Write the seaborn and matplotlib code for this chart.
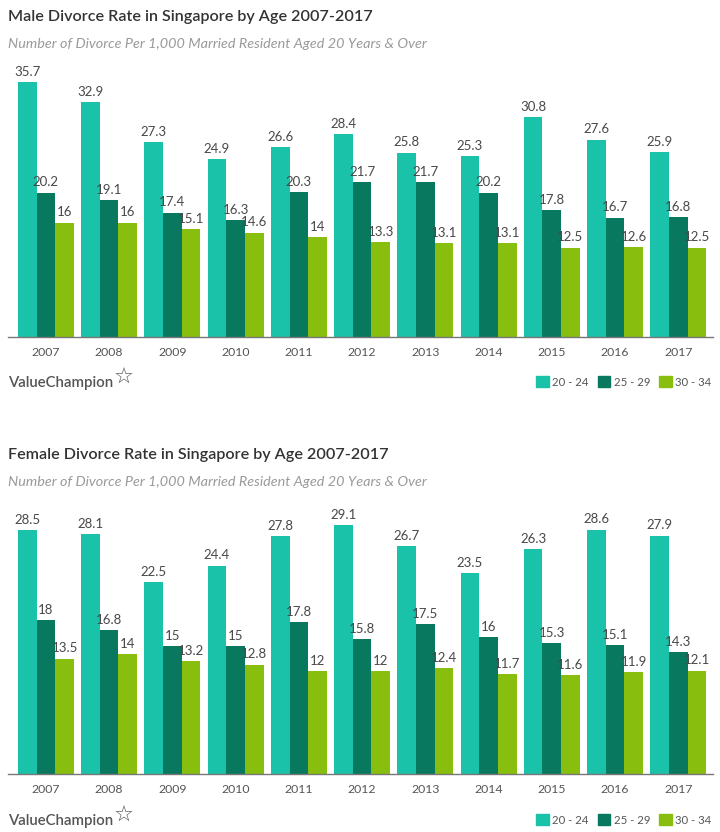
import matplotlib
matplotlib.use("Agg")
import matplotlib.pyplot as plt
import matplotlib.patches as mpatches
import seaborn as sns
import pandas as pd

years = ["2007", "2008", "2009", "2010", "2011", "2012", "2013", "2014", "2015", "2016", "2017"]
age_groups = ["20 - 24", "25 - 29", "30 - 34"]

male_20_24 = [35.7, 32.9, 27.3, 24.9, 26.6, 28.4, 25.8, 25.3, 30.8, 27.6, 25.9]
male_25_29 = [20.2, 19.1, 17.4, 16.3, 20.3, 21.7, 21.7, 20.2, 17.8, 16.7, 16.8]
male_30_34 = [16, 16, 15.1, 14.6, 14, 13.3, 13.1, 13.1, 12.5, 12.6, 12.5]

female_20_24 = [28.5, 28.1, 22.5, 24.4, 27.8, 29.1, 26.7, 23.5, 26.3, 28.6, 27.9]
female_25_29 = [18, 16.8, 15, 15, 17.8, 15.8, 17.5, 16, 15.3, 15.1, 14.3]
female_30_34 = [13.5, 14, 13.2, 12.8, 12, 12, 12.4, 11.7, 11.6, 11.9, 12.1]

titles = ["Male Divorce Rate in Singapore by Age 2007-2017",
          "Female Divorce Rate in Singapore by Age 2007-2017"]
subtitle = "Number of Divorce Per 1,000 Married Resident Aged 20 Years & Over"

colors = ["#19C2A9", "#08785F", "#88BF0E"]

sns.set_theme(style="white")
plt.rcParams["font.family"] = ["Lato", "DejaVu Sans"]


def long_df(a, b, c):
    rows = []
    for vals, g in zip([a, b, c], age_groups):
        for y, v in zip(years, vals):
            rows.append({"year": y, "age": g, "rate": v})
    return pd.DataFrame(rows)


W, H = 720, 832
fig = plt.figure(figsize=(W / 100, H / 100), dpi=100)

panels = [
    (long_df(male_20_24, male_25_29, male_30_34), 60, 337, 38.74, 0),
    (long_df(female_20_24, female_25_29, female_30_34), 498, 774, 32.3, 438),
]

for i, (df, top_px, bot_px, ymax, off) in enumerate(panels):
    ax = fig.add_axes([8 / W, 1 - bot_px / H, (713 - 8) / W, (bot_px - top_px) / H])
    sns.barplot(data=df, x="year", y="rate", hue="age", hue_order=age_groups,
                palette=colors, width=0.885, saturation=1, ax=ax, legend=False,
                errorbar=None, linewidth=0)
    for cont in ax.containers:
        ax.bar_label(cont, fmt="{:g}", padding=3, fontsize=9.5, color="#484848")
    ax.set_ylim(0, ymax)
    ax.set_xlim(-0.6, 10.55)
    ax.set_xlabel("")
    ax.set_ylabel("")
    ax.set_yticks([])
    for s in ["top", "right", "left"]:
        ax.spines[s].set_visible(False)
    ax.spines["bottom"].set_color("#777777")
    ax.spines["bottom"].set_linewidth(1.0)
    ax.tick_params(axis="x", length=0, pad=7, labelsize=8.8, labelcolor="#555555")

    fig.text(8 / W, 1 - (17 + off) / H, titles[i], fontsize=11.6, fontweight="semibold",
             color="#333333", va="center", ha="left")
    fig.text(8 / W, 1 - (44 + off) / H, subtitle, fontsize=10.4, style="italic",
             fontweight="normal", color="#9a9a9a", va="center", ha="left")
    # logo
    fig.text(8 / W, 1 - (383 + off) / H, "ValueChampion", fontsize=10.8,
             fontweight="semibold", color="#555555", va="center", ha="left")
    fig.text(114 / W, 1 - (378 + off) / H, "\u2606", fontsize=16, family="DejaVu Sans",
             color="#555555", va="center", ha="left")
    handles = [mpatches.Patch(color=c, label=g) for c, g in zip(colors, age_groups)]
    fig.legend(handles=handles, loc="center right", ncol=3,
               bbox_to_anchor=(716 / W, 1 - (382 + off) / H), frameon=False,
               fontsize=8.2, handlelength=1.1, handleheight=1.1, handletextpad=0.3,
               columnspacing=0.8, labelcolor="#555555", borderaxespad=0)

fig.savefig("out.png", dpi=100)
